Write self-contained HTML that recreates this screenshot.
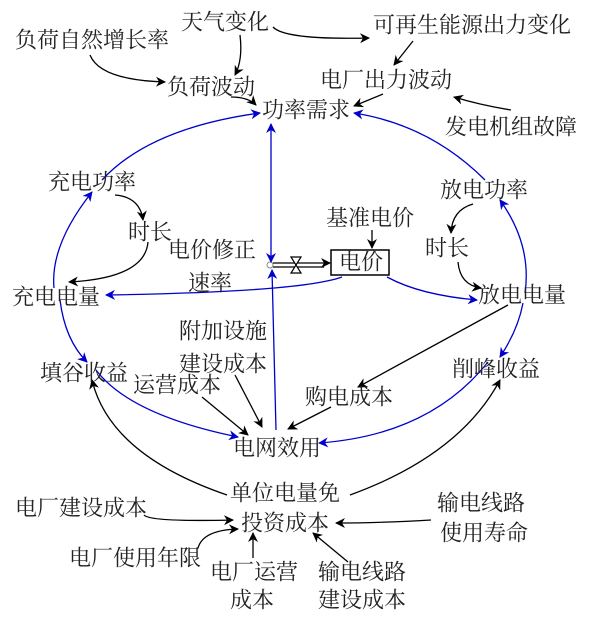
<!DOCTYPE html>
<html><head><meta charset="utf-8"><style>
html,body{margin:0;padding:0;background:#fff}
text{font-family:"Liberation Serif","Noto Serif CJK SC",serif;font-size:22px;fill:#222;dominant-baseline:central}
</style></head><body>
<svg width="597" height="613" viewBox="0 0 597 613" xmlns="http://www.w3.org/2000/svg">
<defs>
<marker id="k" viewBox="0 0 10 10" refX="9" refY="5" markerWidth="10" markerHeight="10" orient="auto-start-reverse" markerUnits="userSpaceOnUse"><path d="M0,0 L10,5 L0,10 L3,5z" fill="#000"/></marker>
<marker id="b" viewBox="0 0 10 10" refX="9" refY="5" markerWidth="10" markerHeight="10" orient="auto-start-reverse" markerUnits="userSpaceOnUse"><path d="M0,0 L10,5 L0,10 L3,5z" fill="#0000cc"/></marker>
</defs>
<g fill="none" stroke="#000" stroke-width="1.3" marker-end="url(#k)">
<path d="M90,55 Q100,80 165,82"/>
<path d="M240,35 Q243,60 235,75"/>
<path d="M273,27 Q285,40 369,38"/>
<path d="M413,41 L394,65"/>
<path d="M231,97 Q248,97 256,105"/>
<path d="M383,94 L354,106"/>
<path d="M511,110 Q480,105 454,97"/>
<path d="M115,195 Q140,197 143,220"/>
<path d="M148,242 Q145,278 69,282"/>
<path d="M473,204 Q452,210 451,233"/>
<path d="M458,262 Q460,285 481,288"/>
<path d="M372,230 L372,248"/>
<path d="M508,305 L358,387"/>
<path d="M331,407 L288,429"/>
<path d="M202,397 L248,435"/>
<path d="M235,375 L262,427"/>
<path d="M227,495 Q110,455 92,380"/>
<path d="M350,495 Q460,455 500,380"/>
<path d="M144,515 Q150,522 233,520"/>
<path d="M198,548 Q203,530 238,529"/>
<path d="M253,558 L253,533"/>
<path d="M348,562 L313,533"/>
<path d="M431,520 Q380,523 336,523"/>
</g>
<g fill="none" stroke="#000" stroke-width="1.2">
<line x1="273" y1="263" x2="330" y2="263" marker-end="url(#k)"/>
<line x1="273" y1="267" x2="324" y2="267"/>
<path d="M291,257 L301,273 L291,273 L301,257 Z" fill="#fff"/>
</g>
<circle cx="270" cy="265" r="3" fill="#fff" stroke="#888"/>
<rect x="331" y="250" width="58" height="25" fill="#fff" stroke="#000" stroke-width="1.5"/>
<g fill="none" stroke="#0000cc" stroke-width="1.3" marker-end="url(#b)">
<path d="M102,180 Q150,128 260,113"/>
<path d="M54,288 Q50,245 92,192"/>
<path d="M60,300 Q65,340 87,362"/>
<path d="M96,370 Q130,415 238,437"/>
<path d="M342,277 Q300,292 106,295"/>
<path d="M387,277 Q420,295 477,300"/>
<path d="M271,124 L271,262" marker-start="url(#b)"/>
<path d="M276,430 L272,270"/>
<path d="M485,180 Q430,125 354,113"/>
<path d="M525,293 Q532,245 500,200"/>
<path d="M523,303 Q518,330 500,357"/>
<path d="M488,362 Q430,435 319,443"/>
</g>
<text x="15" y="40">负荷自然增长率</text>
<text x="181" y="22">天气变化</text>
<text x="373" y="25">可再生能源出力变化</text>
<text x="167" y="87">负荷波动</text>
<text x="320" y="80">电厂出力波动</text>
<text x="262" y="110">功率需求</text>
<text x="445" y="127">发电机组故障</text>
<text x="48" y="182">充电功率</text>
<text x="440" y="190">放电功率</text>
<text x="326" y="218">基准电价</text>
<text x="128" y="232">时长</text>
<text x="425" y="248">时长</text>
<text x="168" y="250">电价修正</text>
<text x="188" y="283">速率</text>
<text x="339" y="262">电价</text>
<text x="12" y="297">充电电量</text>
<text x="478" y="295">放电电量</text>
<text x="179" y="331">附加设施</text>
<text x="179" y="364">建设成本</text>
<text x="40" y="373">填谷收益</text>
<text x="452" y="369">削峰收益</text>
<text x="133" y="385">运营成本</text>
<text x="305" y="397">购电成本</text>
<text x="233" y="448">电网效用</text>
<text x="230" y="493">单位电量免</text>
<text x="15" y="508">电厂建设成本</text>
<text x="437" y="503">输电线路</text>
<text x="440" y="533">使用寿命</text>
<text x="241" y="523">投资成本</text>
<text x="69" y="558">电厂使用年限</text>
<text x="210" y="572">电厂运营</text>
<text x="230" y="600">成本</text>
<text x="318" y="572">输电线路</text>
<text x="318" y="600">建设成本</text>
</svg>
</body></html>
